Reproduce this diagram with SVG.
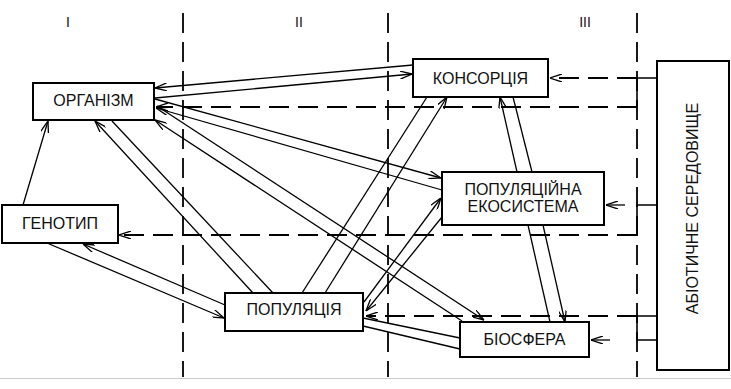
<svg xmlns="http://www.w3.org/2000/svg" width="731" height="389" viewBox="0 0 731 389">
<defs>
<marker id="ar" viewBox="0 0 12 8" refX="12" refY="4" markerWidth="12" markerHeight="8" markerUnits="userSpaceOnUse" orient="auto">
<path d="M0,0 L12,4 L0,8" fill="none" stroke="#000" stroke-width="1.3"/>
</marker>
<style>
.box{fill:#fff;stroke:#000;stroke-width:2}
.t{font-family:"Liberation Sans",Arial,sans-serif;font-size:16px;fill:#111;text-anchor:middle}
.n{font-family:"Liberation Sans",Arial,sans-serif;font-size:14px;fill:#111;text-anchor:middle}
.c{fill:none;stroke:#000;stroke-width:1.3}
.a{marker-end:url(#ar)}
.d{fill:none;stroke:#000;stroke-width:1.8;stroke-dasharray:20 9}
.s{fill:none;stroke:#000;stroke-width:1.6}
</style>
</defs>
<rect width="731" height="389" fill="#fff"/>
<line x1="0" y1="378.5" x2="731" y2="378.5" stroke="#ccc" stroke-width="1"/>
<g id="columns">
<line class="d" x1="183" y1="13" x2="183" y2="377"/>
<line class="d" x1="388" y1="13" x2="388" y2="377"/>
<line class="d" x1="637" y1="13" x2="637" y2="377"/>
<text class="n" x="68" y="27">I</text>
<text class="n" x="299" y="27">II</text>
<text class="n" x="585" y="27">III</text>
</g>
<g id="connectors">
<line class="c a" x1="413" y1="65" x2="155" y2="88"/>
<line class="c a" x1="155" y1="98" x2="412" y2="74"/>
<line class="c a" x1="155" y1="99" x2="441" y2="178"/>
<line class="c a" x1="442" y1="190" x2="156" y2="108"/>
<line class="c a" x1="157" y1="106" x2="484" y2="320"/>
<line class="c a" x1="462" y1="321" x2="155" y2="120"/>
<line class="c a" x1="253" y1="293" x2="95" y2="121"/>
<line class="c" x1="112" y1="121" x2="273" y2="293"/>
<line class="c a" x1="23" y1="205" x2="48" y2="121"/>
<line class="c a" x1="47" y1="243" x2="224" y2="318"/>
<line class="c a" x1="225" y1="305" x2="83" y2="244"/>
<line class="c a" x1="325" y1="293" x2="447" y2="97"/>
<line class="c" x1="427" y1="97" x2="302" y2="293"/>
<line class="c a" x1="364" y1="302" x2="441" y2="198"/>
<line class="c a" x1="442" y1="217" x2="366" y2="311"/>
<line class="c" x1="460" y1="338" x2="363" y2="318"/>
<line class="c" x1="363" y1="326" x2="460" y2="349"/>
<line class="c a" x1="517" y1="172" x2="500" y2="97"/>
<line class="c" x1="513" y1="97" x2="532" y2="172"/>
<line class="c" x1="528" y1="225" x2="550" y2="322"/>
<line class="c a" x1="543" y1="225" x2="565" y2="322"/>
<polyline class="s" points="657,78 637,78 637,107"/>
<polyline class="s" points="657,205 637,205 637,235"/>
<polyline class="s" points="657,316 637,316 637,340 657,340"/>
<line class="d a" x1="637" y1="78" x2="550" y2="78"/>
<line class="d a" x1="637" y1="107" x2="156" y2="107"/>
<line class="c a" x1="625" y1="205" x2="606" y2="205"/>
<line class="d a" x1="637" y1="235" x2="119" y2="235"/>
<line class="d a" x1="637" y1="316" x2="366" y2="316"/>
<line class="c a" x1="610" y1="340" x2="591" y2="340"/>
</g>
<g id="organism"><rect class="box" x="33" y="83" width="121" height="37"/><text class="t" x="93.5" y="106">ОРГАНІЗМ</text></g>
<g id="genotype"><rect class="box" x="2" y="205" width="116" height="38"/><text class="t" x="60" y="229">ГЕНОТИП</text></g>
<g id="population"><rect class="box" x="225" y="293" width="138" height="38"/><text class="t" x="294" y="315">ПОПУЛЯЦІЯ</text></g>
<g id="consortium"><rect class="box" x="413" y="59" width="135" height="38"/><text class="t" x="480.5" y="84">КОНСОРЦІЯ</text></g>
<g id="ecosystem"><rect class="box" x="442" y="172" width="162" height="53"/><text class="t" x="523" y="195">ПОПУЛЯЦІЙНА</text><text class="t" x="523" y="212">ЕКОСИСТЕМА</text></g>
<g id="biosphere"><rect class="box" x="460" y="322" width="129" height="35"/><text class="t" x="524.5" y="345">БІОСФЕРА</text></g>
<g id="abiotic"><rect class="box" x="657" y="61" width="72" height="309"/><text class="t" transform="translate(698,208.5) rotate(-90)">АБІОТИЧНЕ СЕРЕДОВИЩЕ</text></g>
</svg>
